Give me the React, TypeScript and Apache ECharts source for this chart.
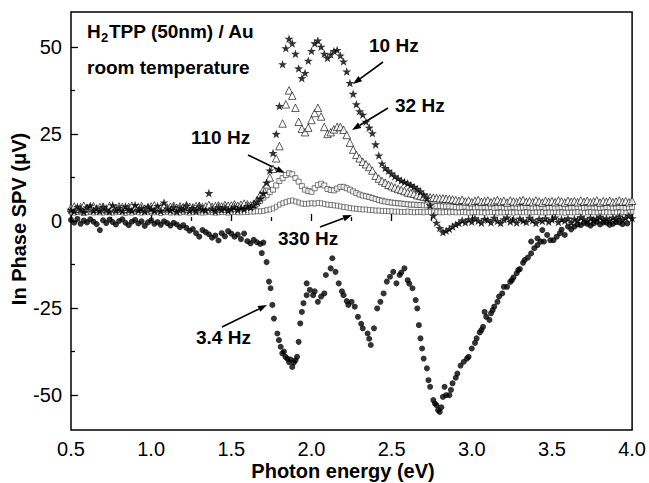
import React, { useEffect, useRef } from "react";
import * as echarts from "echarts";

// Photon energy grid for the uniformly sampled series (eV)
const E_START = 0.5;
const E_STEP = 0.02;

// 10 Hz (stars), 0.50 .. 4.00 eV
const hz10 = [
  3.2, 2.8, 4.1, 3.5, 2.6, 3.9, 4.4, 3.0, 3.6, 2.9,
  4.0, 3.3, 2.7, 4.5, 3.1, 3.8, 2.9, 4.2, 3.4, 3.0,
  4.6, 3.2, 3.7, 2.8, 4.1, 3.5, 3.0, 4.3, 2.9, 5.3,
  3.6, 3.1, 4.0, 2.7, 3.8, 3.3, 4.4, 3.0, 3.7, 2.9,
  4.2, 3.4, 3.1, 8.0, 3.6, 2.8, 4.0, 3.3, 3.9, 3.0,
  3.5, 4.1, 3.2, 3.8, 3.4, 4.3, 3.9, 4.6, 5.5, 6.5,
  8.0, 11.0, 14.5, 19.5, 25.0, 33.0, 45.0, 49.6, 52.3, 51.0,
  48.0, 43.8, 41.0, 42.5, 46.0, 48.8, 51.0, 51.8, 50.0, 48.0,
  46.8, 47.8, 48.8, 49.1, 47.5, 45.8, 42.9, 39.6, 36.5, 33.5,
  31.5, 30.5, 28.5, 26.8, 25.2, 22.0, 18.8, 16.5, 15.2, 14.4,
  13.6, 12.8, 12.2, 11.6, 11.2, 10.8, 10.3, 9.8, 9.2, 8.5,
  7.6, 6.5, 4.5, 1.5, -0.5, -2.0, -3.2, -2.8, -2.3, -1.6,
  -1.0, -0.6, 0.2, -0.4, 0.5, -0.2, 0.8, 0.1, -0.5, 0.6,
  0.3, -0.4, 0.9, 0.0, -0.6, 0.5, 1.0, -0.2, 0.4, -0.5,
  0.7, 0.1, -0.3, 0.9, 0.2, -0.6, 0.6, 0.0, 0.8, -0.2,
  0.4, 1.0, -0.3, 0.5, 0.1, 0.8, -0.4, 0.6, 0.2, 1.1,
  0.5, -0.1, 0.9, 0.3, 0.7, 1.2, 0.4, 0.8, 0.2, 1.0,
  0.6, 1.3, 0.4, 0.9, 1.5, 0.8,
];

// 32 Hz (open triangles)
const hz32 = [
  3.8, 4.2, 3.5, 4.0, 4.4, 3.7, 3.9, 4.3, 3.6, 4.0,
  4.1, 3.6, 4.3, 3.9, 3.7, 4.2, 4.0, 3.5, 4.1, 4.4,
  3.8, 4.0, 4.3, 3.6, 3.9, 4.2, 4.5, 3.8, 4.0, 4.3,
  3.9, 4.1, 4.4, 3.8, 4.2, 4.0, 4.5, 4.1, 3.9, 4.3,
  4.4, 4.0, 4.2, 4.6, 4.1, 4.3, 4.5, 4.2, 4.6, 4.4,
  4.5, 4.8, 4.4, 4.7, 5.0, 4.8, 4.5, 5.0, 6.0, 7.5,
  9.0, 10.5, 12.5, 15.0, 18.0, 21.5, 28.0, 33.5, 37.5, 36.0,
  32.5, 28.5, 26.5, 25.5, 26.8, 29.0, 31.0, 32.5, 30.0, 27.0,
  25.0, 25.5, 26.3, 27.0, 27.0, 26.2, 24.7, 22.5, 20.5, 19.0,
  18.0, 17.0, 16.3, 15.5, 14.5, 13.0, 12.2, 11.5, 11.0, 10.4,
  10.0, 9.6, 9.2, 8.9, 8.6, 8.2, 8.0, 7.8, 7.4, 7.2,
  7.0, 6.9, 6.8, 6.7, 6.6, 6.5, 6.5, 6.4, 6.3, 6.2,
  6.0, 5.8, 6.1, 5.6, 5.9, 5.4, 5.8, 6.0, 5.5, 5.7,
  5.9, 5.4, 5.7, 6.0, 5.5, 5.8, 5.3, 5.9, 5.6, 5.4,
  5.8, 6.0, 5.5, 5.7, 5.4, 5.9, 5.6, 5.3, 5.8, 5.5,
  5.7, 5.4, 5.9, 5.6, 5.3, 5.8, 5.5, 5.7, 5.4, 5.9,
  5.5, 5.8, 5.4, 5.6, 5.9, 5.3, 5.7, 5.5, 5.8, 5.4,
  5.6, 5.9, 5.5, 5.7, 5.4, 5.8,
];

// 110 Hz (open squares)
const hz110 = [
  3.0, 3.2, 3.1, 2.9, 3.1, 3.2, 3.0, 3.1, 3.2, 3.0,
  3.1, 2.9, 3.2, 3.1, 3.0, 3.2, 3.1, 3.0, 3.1, 3.2,
  3.0, 3.1, 3.2, 3.0, 3.1, 2.9, 3.1, 3.2, 3.0, 3.1,
  3.2, 3.1, 3.0, 3.1, 3.2, 3.0, 3.1, 3.1, 3.2, 3.0,
  3.1, 3.2, 3.1, 3.0, 3.2, 3.1, 3.2, 3.3, 3.2, 3.3,
  3.3, 3.4, 3.5, 3.6, 3.8, 4.0, 4.2, 4.5, 5.0, 5.8,
  6.7, 7.4, 8.3, 9.0, 10.2, 11.5, 12.3, 13.2, 13.7, 13.4,
  12.3, 11.3, 10.0, 9.0, 8.6, 8.4, 9.4, 10.3, 10.7, 10.2,
  9.2, 8.9, 8.8, 9.3, 9.8, 9.8, 9.4, 9.0, 8.5, 8.0,
  7.6, 7.3, 7.1, 6.9, 6.6, 6.3, 6.0, 5.8, 5.6, 5.4,
  5.3, 5.2, 5.1, 5.0, 4.9, 4.8, 4.7, 4.7, 4.6, 4.6,
  4.5, 4.5, 4.4, 4.4, 4.3, 4.3, 4.2, 4.2, 4.2, 4.1,
  4.0, 3.9, 4.0, 4.1, 3.9, 4.0, 3.9, 4.0, 3.9, 4.0,
  3.9, 4.0, 3.8, 3.9, 4.0, 3.9, 3.8, 3.9, 4.0, 3.9,
  3.8, 3.9, 4.0, 3.9, 3.8, 3.9, 3.9, 4.0, 3.8, 3.9,
  3.9, 3.8, 3.9, 4.0, 3.9, 3.8, 3.9, 3.9, 4.0, 3.9,
  3.8, 3.9, 4.0, 3.9, 3.9, 3.8, 3.9, 4.0, 3.9, 3.8,
  3.9, 4.0, 3.9, 3.8, 3.9, 4.0,
];

// 330 Hz (small open squares)
const hz330 = [
  2.5, 2.4, 2.6, 2.5, 2.3, 2.5, 2.6, 2.4, 2.5, 2.5,
  2.4, 2.6, 2.5, 2.4, 2.5, 2.6, 2.5, 2.3, 2.5, 2.4,
  2.6, 2.5, 2.4, 2.5, 2.6, 2.4, 2.5, 2.5, 2.3, 2.5,
  2.6, 2.4, 2.5, 2.5, 2.4, 2.6, 2.5, 2.4, 2.5, 2.6,
  2.5, 2.4, 2.5, 2.6, 2.5, 2.4, 2.5, 2.6, 2.5, 2.4,
  2.5, 2.6, 2.5, 2.5, 2.6, 2.6, 2.7, 2.7, 2.8, 2.8,
  2.9, 3.1, 3.3, 3.6, 4.1, 4.7, 5.1, 5.4, 5.7, 5.9,
  5.6, 5.3, 5.0, 4.9, 5.0, 5.1, 5.0, 5.2, 5.1, 4.9,
  4.7, 4.6, 4.5, 4.4, 4.2, 4.0, 3.9, 3.7, 3.6, 3.5,
  3.4, 3.3, 3.3, 3.2, 3.1, 3.0, 3.0, 2.9, 2.9, 2.8,
  2.8, 2.7, 2.7, 2.6, 2.6, 2.7, 2.6, 2.5, 2.6, 2.6,
  2.5, 2.6, 2.6, 2.5, 2.6, 2.5, 2.5, 2.6, 2.5, 2.6,
  2.5, 2.5, 2.6, 2.5, 2.4, 2.5, 2.6, 2.5, 2.5, 2.4,
  2.5, 2.6, 2.5, 2.4, 2.5, 2.5, 2.6, 2.5, 2.4, 2.5,
  2.6, 2.5, 2.5, 2.4, 2.5, 2.6, 2.5, 2.5, 2.4, 2.5,
  2.5, 2.6, 2.5, 2.5, 2.4, 2.6, 2.5, 2.5, 2.6, 2.5,
  2.4, 2.5, 2.6, 2.5, 2.5, 2.4, 2.6, 2.5, 2.5, 2.6,
  2.5, 2.4, 2.6, 2.5, 2.6, 2.7,
];

// 3.4 Hz (filled circles), [photon energy, SPV]
const hz3p4: [number, number][] = [
  [0.5, 0.3], [0.52, -0.5], [0.54, 0.6], [0.56, -0.8], [0.58, 0.1], [0.6, -0.4], [0.62, 0.5], [0.64, -0.2],
  [0.66, -0.9], [0.68, -2.6], [0.7, 0.2], [0.72, -0.6], [0.74, 0.4], [0.76, -0.3], [0.78, -1.0], [0.8, 0.0],
  [0.82, 0.5], [0.84, -0.5], [0.86, -1.2], [0.88, -0.2], [0.9, 0.3], [0.92, -0.7], [0.94, -0.1], [0.96, -1.4],
  [0.98, -0.4], [1.0, 0.2], [1.02, -0.8], [1.04, -0.3], [1.06, -1.1], [1.08, -0.1], [1.1, -0.6], [1.12, -1.3],
  [1.14, -0.5], [1.16, -1.0], [1.18, -1.8], [1.2, -1.2], [1.22, -2.0], [1.24, -2.8], [1.26, -2.3],
  [1.28, -3.5], [1.3, -4.5], [1.32, -2.6], [1.34, -3.2], [1.36, -3.8], [1.38, -4.8], [1.4, -4.2], [1.42, -5.6],
  [1.44, -3.5], [1.46, -4.4], [1.48, -2.9], [1.5, -3.6], [1.52, -4.5], [1.54, -3.9], [1.56, -5.2], [1.58, -3.6],
  [1.6, -5.8], [1.62, -6.4], [1.64, -5.4], [1.66, -6.1], [1.68, -6.6], [1.69, -9.2], [1.7, -6.2], [1.72, -11.8],
  [1.735, -17.4], [1.745, -19.3], [1.756, -24.1], [1.766, -28.0], [1.787, -32.3], [1.797, -34.2], [1.808, -36.1],
  [1.818, -38.0], [1.828, -37.5], [1.838, -39.0], [1.849, -39.5], [1.86, -40.5], [1.87, -39.8], [1.88, -41.9],
  [1.89, -40.6], [1.9, -40.0], [1.91, -39.0], [1.92, -34.7], [1.93, -29.4], [1.94, -26.1], [1.95, -23.6],
  [1.97, -21.3], [1.97, -17.9], [1.99, -19.8], [2.01, -21.3], [2.02, -20.2], [2.04, -23.2], [2.06, -21.7],
  [2.08, -20.8], [2.09, -15.5], [2.12, -13.6], [2.13, -10.7], [2.15, -14.6], [2.17, -17.9], [2.19, -20.2],
  [2.2, -21.3], [2.22, -23.0], [2.23, -24.1], [2.25, -23.2], [2.27, -24.6], [2.29, -27.5], [2.31, -29.5],
  [2.32, -30.8], [2.35, -32.3], [2.36, -33.8], [2.37, -35.6], [2.39, -30.8], [2.41, -25.1], [2.43, -23.2],
  [2.45, -20.8], [2.47, -17.4], [2.49, -16.0], [2.51, -14.6], [2.53, -17.9], [2.55, -15.5], [2.56, -14.8],
  [2.58, -13.6], [2.6, -17.0], [2.61, -18.0], [2.63, -19.3], [2.65, -22.7], [2.66, -25.1], [2.67, -29.9],
  [2.68, -33.7], [2.69, -36.6], [2.7, -39.5], [2.72, -42.3], [2.73, -45.7], [2.74, -47.6], [2.76, -51.4],
  [2.77, -52.4], [2.78, -52.9], [2.79, -54.3], [2.8, -54.8], [2.81, -53.5], [2.82, -50.5], [2.83, -47.6],
  [2.84, -50.0], [2.86, -50.0], [2.87, -48.5], [2.88, -46.6], [2.9, -45.0], [2.91, -43.8], [2.93, -41.5],
  [2.95, -40.4], [2.97, -39.5], [2.98, -39.0], [3.0, -36.6], [3.02, -35.0], [3.03, -33.7], [3.05, -32.0],
  [3.06, -31.3], [3.07, -30.4], [3.08, -26.1], [3.09, -27.5], [3.11, -28.4], [3.12, -26.5], [3.13, -25.6],
  [3.14, -24.6], [3.16, -23.2], [3.17, -21.7], [3.19, -20.8], [3.2, -18.9], [3.22, -18.9], [3.24, -17.5],
  [3.25, -17.0], [3.26, -16.2], [3.28, -15.0], [3.29, -14.1], [3.3, -13.8], [3.32, -12.0], [3.33, -11.2],
  [3.35, -10.5], [3.37, -9.3], [3.37, -5.9], [3.39, -7.8], [3.41, -6.9], [3.41, -5.0], [3.43, -5.9],
  [3.44, -2.6], [3.45, -5.9], [3.47, -4.0], [3.49, -5.5], [3.51, -5.5], [3.53, -4.5], [3.55, -3.5],
  [3.56, -2.5], [3.58, -4.0], [3.6, -1.6], [3.62, -2.4], [3.64, -1.6], [3.66, -1.0], [3.68, -1.2],
  [3.7, -0.5], [3.72, -0.8], [3.74, -1.3], [3.76, -0.7], [3.78, -0.2], [3.8, -1.0], [3.82, -0.4],
  [3.84, -0.5], [3.86, -1.1], [3.88, -0.8], [3.9, -0.3], [3.92, -0.4], [3.94, -0.9], [3.97, -0.7],
];

// Axis ticks
const Y_MAJOR = [-50, -25, 0, 25, 50];
const Y_MINOR = [-37.5, -12.5, 12.5, 37.5];

const FONT = '"Liberation Sans", Arial, Helvetica, sans-serif';
const STAR =
  "path://M0,-10 L2.35,-3.24 L9.51,-3.09 L3.8,1.24 L5.88,8.09 L0,4 L-5.88,8.09 L-3.8,1.24 L-9.51,-3.09 L-2.35,-3.24 Z";

const toPairs = (arr: number[]) =>
  arr.map((v, i) => [+(E_START + i * E_STEP).toFixed(2), v]);

function arrow(x1: number, y1: number, x2: number, y2: number) {
  const a = Math.atan2(y2 - y1, x2 - x1);
  const L = 9;
  const W = 3.2;
  const bx = x2 - L * Math.cos(a);
  const by = y2 - L * Math.sin(a);
  const px = -Math.sin(a) * W;
  const py = Math.cos(a) * W;
  return [
    {
      type: "line",
      shape: { x1, y1, x2: bx, y2: by },
      style: { stroke: "#000", lineWidth: 1.6 },
      silent: true,
    },
    {
      type: "polygon",
      shape: { points: [[x2, y2], [bx + px, by + py], [bx - px, by - py]] },
      style: { fill: "#000" },
      silent: true,
    },
  ];
}

function label(text: string, x: number, y: number, size = 19) {
  return {
    type: "text",
    x,
    y,
    silent: true,
    style: {
      text,
      fill: "#000",
      font: `bold ${size}px ${FONT}`,
      align: "left",
      verticalAlign: "middle",
    },
  };
}

export default function App() {
  const ref = useRef<HTMLDivElement>(null);

  useEffect(() => {
    if (!ref.current) return;
    const chart = echarts.init(ref.current, undefined, { renderer: "svg" });
    const option: any = {
      animation: false,
      backgroundColor: "#fff",
      grid: {
        left: 71,
        right: 14,
        top: 12,
        bottom: 53,
        show: true,
        borderColor: "#000",
        borderWidth: 1.5,
        backgroundColor: "transparent",
      },
      xAxis: {
        type: "value",
        min: 0.5,
        max: 4.0,
        interval: 0.5,
        axisLine: { show: false },
        axisTick: { inside: true, length: 7, lineStyle: { color: "#000", width: 1.3 } },
        minorTick: { show: true, splitNumber: 2, length: 4, lineStyle: { color: "#000", width: 1.3 } },
        splitLine: { show: false },
        minorSplitLine: { show: false },
        axisLabel: {
          color: "#000",
          fontSize: 20,
          fontFamily: FONT,
          margin: 9,
          formatter: (v: number) => v.toFixed(1),
        },
      },
      yAxis: [
        {
          type: "value",
          min: -60,
          max: 60,
          axisLine: { show: false },
          axisTick: {
            inside: true,
            length: 7,
            customValues: Y_MAJOR,
            lineStyle: { color: "#000", width: 1.3 },
          },
          axisLabel: {
            customValues: Y_MAJOR,
            color: "#000",
            fontSize: 20,
            fontFamily: FONT,
            margin: 9,
          },
          splitLine: { show: false },
        },
        {
          type: "value",
          min: -60,
          max: 60,
          position: "left",
          axisLine: { show: false },
          axisTick: {
            inside: true,
            length: 4,
            customValues: Y_MINOR,
            lineStyle: { color: "#000", width: 1.3 },
          },
          axisLabel: { show: false },
          splitLine: { show: false },
        },
      ],
      series: [
        {
          name: "330 Hz",
          type: "scatter",
          data: toPairs(hz330),
          symbol: "rect",
          symbolSize: [3.5, 5],
          itemStyle: { color: "#fff", borderColor: "#444", borderWidth: 0.8 },
          silent: true,
        },
        {
          name: "110 Hz",
          type: "scatter",
          data: toPairs(hz110),
          symbol: "rect",
          symbolSize: 5,
          itemStyle: { color: "#fff", borderColor: "#333", borderWidth: 0.8 },
          silent: true,
        },
        {
          name: "32 Hz",
          type: "scatter",
          data: toPairs(hz32),
          symbol: "triangle",
          symbolSize: 7.5,
          itemStyle: { color: "#fff", borderColor: "#000", borderWidth: 0.8 },
          silent: true,
        },
        {
          name: "10 Hz",
          type: "scatter",
          data: toPairs(hz10),
          symbol: STAR,
          symbolKeepAspect: true,
          symbolSize: 9,
          itemStyle: { color: "#000" },
          silent: true,
        },
        {
          name: "3.4 Hz",
          type: "scatter",
          data: hz3p4,
          symbol: "circle",
          symbolSize: 6,
          itemStyle: { color: "#000" },
          silent: true,
        },
      ],
      graphic: [
        label("H", 87, 31.5),
        label("2", 101, 37, 13),
        label("TPP (50nm) / Au", 109, 31.5),
        label("room temperature", 87, 67.5),
        label("10 Hz", 369, 45),
        label("32 Hz", 395, 105),
        label("110 Hz", 191, 137.5),
        label("330 Hz", 278, 238.5),
        label("3.4 Hz", 196, 337),
        ...arrow(383, 62, 353, 84),
        ...arrow(388, 108, 352, 130),
        ...arrow(248, 155, 285, 173),
        ...arrow(320, 227, 352, 215),
        ...arrow(222, 327, 267, 305),
        {
          type: "text",
          x: 343,
          y: 471,
          silent: true,
          style: {
            text: "Photon energy (eV)",
            fill: "#000",
            font: `bold 20px ${FONT}`,
            align: "center",
            verticalAlign: "middle",
          },
        },
        {
          type: "text",
          x: 19,
          y: 219,
          rotation: Math.PI / 2,
          silent: true,
          style: {
            text: "In Phase SPV (\u03bcV)",
            fill: "#000",
            font: `bold 20px ${FONT}`,
            align: "center",
            verticalAlign: "middle",
          },
        },
      ],
    };
    chart.setOption(option);
    return () => chart.dispose();
  }, []);

  return (
    <div
      ref={ref}
      style={{ position: "absolute", left: 0, top: 0, width: 649, height: 483 }}
    />
  );
}
